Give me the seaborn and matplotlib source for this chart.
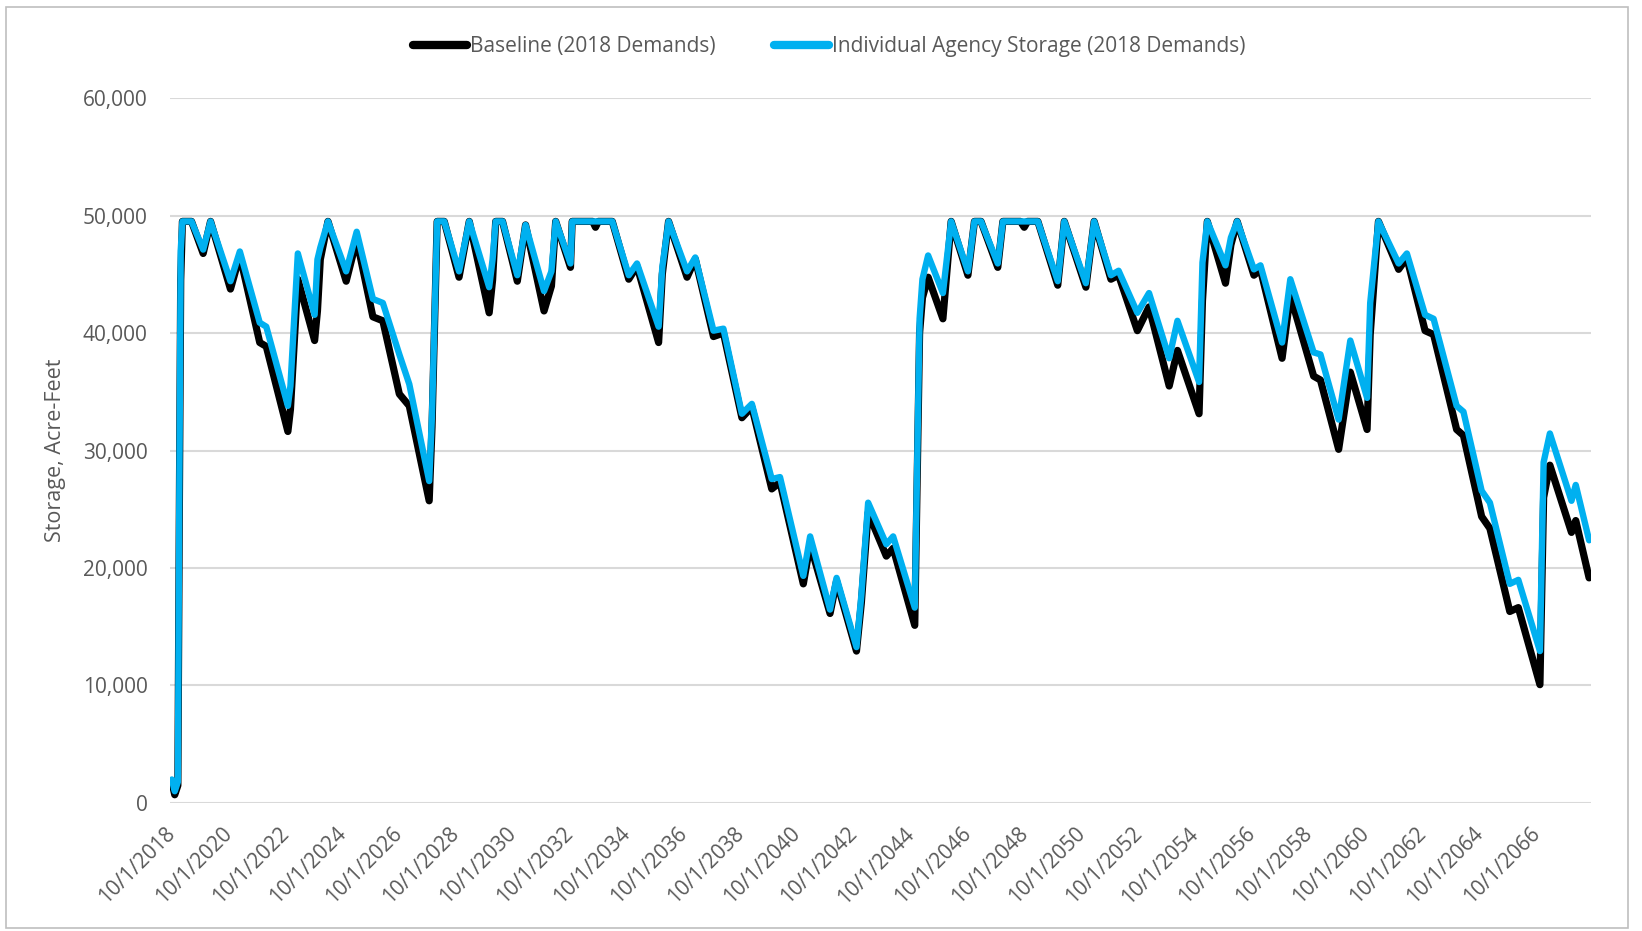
import numpy as np
import pandas as pd
import seaborn as sns
import matplotlib.pyplot as plt
import matplotlib.dates as mdates
from matplotlib.ticker import FuncFormatter
from matplotlib.patches import Rectangle

# years elapsed since 10/1/2018 (vertices)
years = [0.00, 0.10, 0.21, 0.26, 0.31, 0.37, 0.69, 1.10, 1.36, 2.06, 2.39, 3.09, 3.32,
         4.08, 4.17, 4.43, 5.02, 5.12, 5.22, 5.49, 6.13, 6.50, 7.07, 7.42, 8.00, 8.35,
         9.05, 9.15, 9.33, 9.58, 10.10, 10.46, 11.16, 11.28, 11.39, 11.63, 12.15, 12.44,
         13.09, 13.35, 13.50, 14.02, 14.08, 14.80, 14.90, 15.00, 15.49, 16.07, 16.36,
         17.12, 17.25, 17.47, 18.12, 18.41, 19.05, 19.40, 20.05, 20.40, 21.10, 21.39,
         22.21, 22.45, 23.15, 23.38, 24.08, 24.25, 24.49, 25.13, 25.37, 26.13, 26.30,
         26.40, 26.60, 27.12, 27.41, 28.00, 28.23, 28.46, 29.05, 29.23, 29.85, 29.98,
         30.10, 30.46, 31.16, 31.39, 32.15, 32.44, 33.03, 33.30, 33.96, 34.37, 35.08,
         35.37, 36.13, 36.25, 36.42, 37.06, 37.25, 37.47, 38.06, 38.29, 39.05, 39.34,
         40.16, 40.40, 41.04, 41.45, 42.04, 42.15, 42.44, 43.15, 43.44, 44.08, 44.38,
         45.19, 45.43, 46.07, 46.36, 47.06, 47.36, 48.12, 48.25, 48.47, 49.23, 49.38,
         49.85]

individual = [2000, 1000, 1800, 26000, 47000, 49500, 49500, 47100, 49500, 44410, 46940, 40880, 40540,
              33800, 35500, 46770, 41550, 46260, 47270, 49500, 45250, 48620, 42900, 42560, 38180, 35650,
              27400, 33100, 49500, 49500, 45250, 49500, 43900, 46260, 49500, 49500, 44920, 49200,
              43570, 45250, 49500, 45920, 49500, 49500, 49500, 49500, 49500, 44920, 45920,
              40540, 45590, 49500, 45250, 46430, 40200, 40370, 33130, 33970, 27570, 27740,
              19330, 22690, 16460, 19160, 13270, 17640, 25560, 22020, 22690, 16630, 41210,
              44580, 46600, 43400, 49500, 45250, 49500, 49500, 45920, 49500, 49500, 49500,
              49500, 49500, 44410, 49500, 44240, 49500, 44920, 45300, 41720, 43400, 37850,
              41040, 35830, 46000, 49500, 45760, 48120, 49500, 45420, 45760, 39190, 44580,
              38350, 38180, 32630, 39360, 34480, 42560, 49500, 45920, 46770, 41550, 41210,
              33800, 33300, 26570, 25560, 18650, 18990, 12930, 29000, 31450, 25720, 27070,
              22360]

baseline = [1800, 700, 1500, 24000, 44500, 49500, 49500, 46770, 49500, 43740, 46600, 39190, 38860,
            31620, 33500, 44580, 39360, 41880, 46260, 49500, 44410, 47950, 41380, 41040, 34810, 33800,
            25720, 32000, 49500, 49500, 44750, 49500, 41720, 44500, 49500, 49500, 44410, 49200,
            41880, 44000, 49500, 45590, 49500, 49500, 49000, 49500, 49500, 44580, 45700,
            39190, 45000, 49500, 44750, 46300, 39700, 40000, 32790, 33700, 26730, 27300,
            18650, 22020, 16130, 18900, 12930, 17000, 24710, 21010, 21680, 15120, 40000,
            43000, 44750, 41210, 49500, 44920, 49500, 49500, 45590, 49500, 49500, 49000,
            49500, 49500, 44070, 49500, 43900, 49500, 44580, 44920, 40200, 42220, 35490,
            38520, 33130, 42730, 49500, 44240, 47500, 49500, 44920, 45400, 37850, 43230,
            36330, 36000, 30100, 36670, 31790, 39870, 49500, 45420, 46400, 40200, 39870,
            31790, 31280, 24380, 23370, 16300, 16630, 10070, 26000, 28750, 23030, 24040,
            19160]

series_names = ["Baseline (2018 Demands)", "Individual Agency Storage (2018 Demands)"]
series_colors = ["#000000", "#00B0F0"]

start = pd.Timestamp("2018-10-01")
dates = start + pd.to_timedelta(np.array(years) * 365.25, unit="D")
df = pd.DataFrame({"date": dates, series_names[0]: baseline, series_names[1]: individual})

sns.set_style("white")
plt.rcParams["font.family"] = ["Open Sans", "DejaVu Sans"]
gray = "#595959"

fig = plt.figure(figsize=(16.42, 9.31), dpi=100)
ax = fig.add_axes([0.1035, 0.1375, 0.8655, 0.7572])

sns.lineplot(data=df, x="date", y=series_names[0], color=series_colors[0], lw=5.2,
             label=series_names[0], ax=ax, solid_joinstyle="round")
sns.lineplot(data=df, x="date", y=series_names[1], color=series_colors[1], lw=4.6,
             label=series_names[1], ax=ax, solid_joinstyle="round")

ax.set_ylim(0, 60000)
ax.set_yticks(np.arange(0, 60001, 10000))
ax.yaxis.set_major_formatter(FuncFormatter(lambda v, p: f"{v:,.0f}"))
ax.set_xlim(start - pd.Timedelta(days=25), start + pd.Timedelta(days=49.92 * 365.25))
ax.xaxis.set_major_locator(mdates.YearLocator(2, month=10, day=1))
ax.xaxis.set_major_formatter(FuncFormatter(
    lambda v, p: (lambda d: f"{d.month}/{d.day}/{d.year}")(mdates.num2date(v))))

ax.grid(axis="y", color="#D9D9D9", lw=1.5)
ax.grid(axis="x", visible=False)
ax.set_axisbelow(True)
for s in ax.spines.values():
    s.set_visible(False)

ax.tick_params(axis="both", length=0, labelcolor=gray, labelsize=15)
ax.tick_params(axis="y", pad=16)
ax.tick_params(axis="x", pad=20)
for lab in ax.get_xticklabels():
    lab.set_rotation(45)
    lab.set_ha("right")
    lab.set_va("center")
    lab.set_rotation_mode("anchor")

ax.set_xlabel("")
ax.set_ylabel("Storage, Acre-Feet", color=gray, fontsize=15.5)
ax.yaxis.set_label_coords(-0.073, 0.5)

handles, labels = ax.get_legend_handles_labels()
ax.get_legend().remove()
leg = fig.legend(handles, labels, loc="center", bbox_to_anchor=(0.505, 0.95), ncol=2,
                 frameon=False, fontsize=15, handlelength=2.6, handletextpad=0.15,
                 columnspacing=2.8)
for t in leg.get_texts():
    t.set_color(gray)
for h in leg.get_lines():
    h.set_linewidth(6)

fig.patches.append(Rectangle((0.0037, 0.0032), 0.9878, 0.9893, transform=fig.transFigure,
                             fill=False, edgecolor="#BFBFBF", lw=1.2))

fig.savefig("out.png", dpi=100)
plt.close(fig)
